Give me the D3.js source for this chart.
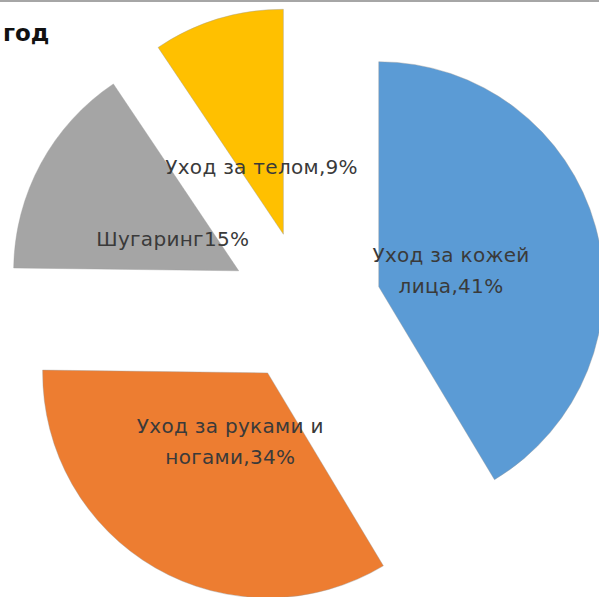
<!DOCTYPE html>
<html>
<head>
<meta charset="utf-8">
<script src="https://cdn.jsdelivr.net/npm/d3@7"></script>
<style>
  html, body { margin: 0; padding: 0; background: #fff; }
  svg { display: block; }
</style>
</head>
<body>
<div id="chart"></div>
<script>
// данные диаграммы
const categories = ["Уход за кожей лица", "Уход за руками и ногами", "Шугаринг", "Уход за телом"];
const values = [41.4, 33.8, 15.4, 9.4];
const labelLines = [
    ["Уход за кожей", "лица,41%"],
    ["Уход за руками и", "ногами,34%"],
    ["Шугаринг15%"],
    ["Уход за телом,9%"]
];
const colors = ["#5b9bd5", "#ed7d31", "#a5a5a5", "#ffc000"];
const titleText = "год";

const width = 599, height = 597;
const cx = 305.5, cy = 307;
const radius = 225;
const explode = 76;     // смещение секторов
const labelDist = 75;   // расстояние подписи от вершины сектора

const svg = d3.select("#chart").append("svg")
    .attr("width", width)
    .attr("height", height);

// серая линия сверху
svg.append("rect")
    .attr("x", 0).attr("y", 0)
    .attr("width", width).attr("height", 2)
    .attr("fill", "#a6a6a6");

svg.append("text")
    .attr("x", 3)
    .attr("y", 41)
    .style("font-family", "'DejaVu Sans', sans-serif")
    .style("font-weight", "bold")
    .style("font-size", "23px")
    .style("fill", "#111")
    .text(titleText);

const pie = d3.pie().sort(null).value(d => d);
const arcs = pie(values);

const arc = d3.arc().innerRadius(0).outerRadius(radius);
const offsetArc = d3.arc().innerRadius(explode).outerRadius(explode);
const labelArc = d3.arc().innerRadius(labelDist).outerRadius(labelDist);

const g = svg.append("g").attr("transform", `translate(${cx}, ${cy})`);

const slices = g.selectAll("g.slice")
    .data(arcs)
    .enter()
    .append("g")
    .attr("class", "slice")
    .attr("transform", d => `translate(${offsetArc.centroid(d)})`);

slices.append("path")
    .attr("d", arc)
    .attr("fill", (d, i) => colors[i])
    .attr("stroke", "#9a9a9a")
    .attr("stroke-opacity", 0.5)
    .attr("stroke-width", 0.8);

// подписи данных
slices.each(function(d, i) {
    const [lx, ly] = labelArc.centroid(d);
    const lines = labelLines[i];
    const lineH = 31;
    const t = d3.select(this).append("text")
        .attr("text-anchor", "middle")
        .style("font-family", "'DejaVu Sans', sans-serif")
        .style("font-size", "20px")
        .style("letter-spacing", "0.3px")
        .style("fill", "#3a3a3a");
    lines.forEach((s, k) => {
        t.append("tspan")
            .attr("x", lx)
            .attr("y", ly + 4 + (k - (lines.length - 1) / 2) * lineH)
            .attr("dy", "0.35em")
            .text(s);
    });
});
</script>
</body>
</html>
